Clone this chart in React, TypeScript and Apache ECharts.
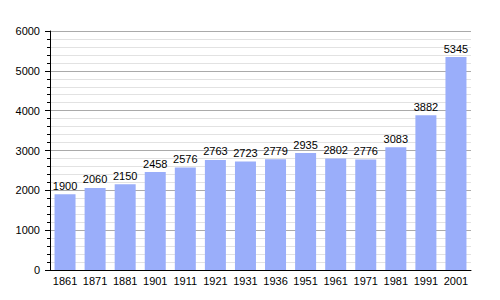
import React, { useEffect, useRef } from "react";
import * as echarts from "echarts";

const years = ["1861", "1871", "1881", "1901", "1911", "1921", "1931", "1936", "1951", "1961", "1971", "1981", "1991", "2001"];
const population = [1900, 2060, 2150, 2458, 2576, 2763, 2723, 2779, 2935, 2802, 2776, 3083, 3882, 5345];

export default function App() {
  const ref = useRef<HTMLDivElement>(null);
  useEffect(() => {
    const chart = echarts.init(ref.current!, null, { renderer: "svg" });
    chart.setOption({
      animation: false,
      backgroundColor: "#ffffff",
      textStyle: { fontFamily: "Liberation Sans" },
      grid: { left: 50, right: 29, top: 31, bottom: 30 },
      xAxis: {
        type: "category",
        data: years,
        axisLine: { show: true, lineStyle: { color: "#000000", width: 1 } },
        axisTick: { show: false },
        axisLabel: { color: "#000000", fontSize: 11, margin: 5, interval: 0 },
      },
      yAxis: {
        type: "value",
        min: 0,
        max: 6000,
        interval: 1000,
        axisLine: { show: true, lineStyle: { color: "#000000", width: 1 } },
        axisTick: { show: true, length: 5, lineStyle: { color: "#000000" } },
        minorTick: { show: true, splitNumber: 5, length: 3, lineStyle: { color: "#000000" } },
        axisLabel: { color: "#000000", fontSize: 11, margin: 10, formatter: (v: number) => String(v) },
        splitLine: { show: true, lineStyle: { color: "#aaaaaa", width: 1 } },
        minorSplitLine: { show: true, lineStyle: { color: "#e2e2e2", width: 1 } },
      },
      series: [
        {
          type: "bar",
          data: population,
          barWidth: 21,
          itemStyle: { color: "#9aaefa" },
          label: { show: true, position: "top", color: "#000000", fontSize: 11, distance: 3 },
        },
      ],
    });
    return () => chart.dispose();
  }, []);
  return <div ref={ref} style={{ position: "fixed", left: 0, top: 0, width: 500, height: 300 }} />;
}
